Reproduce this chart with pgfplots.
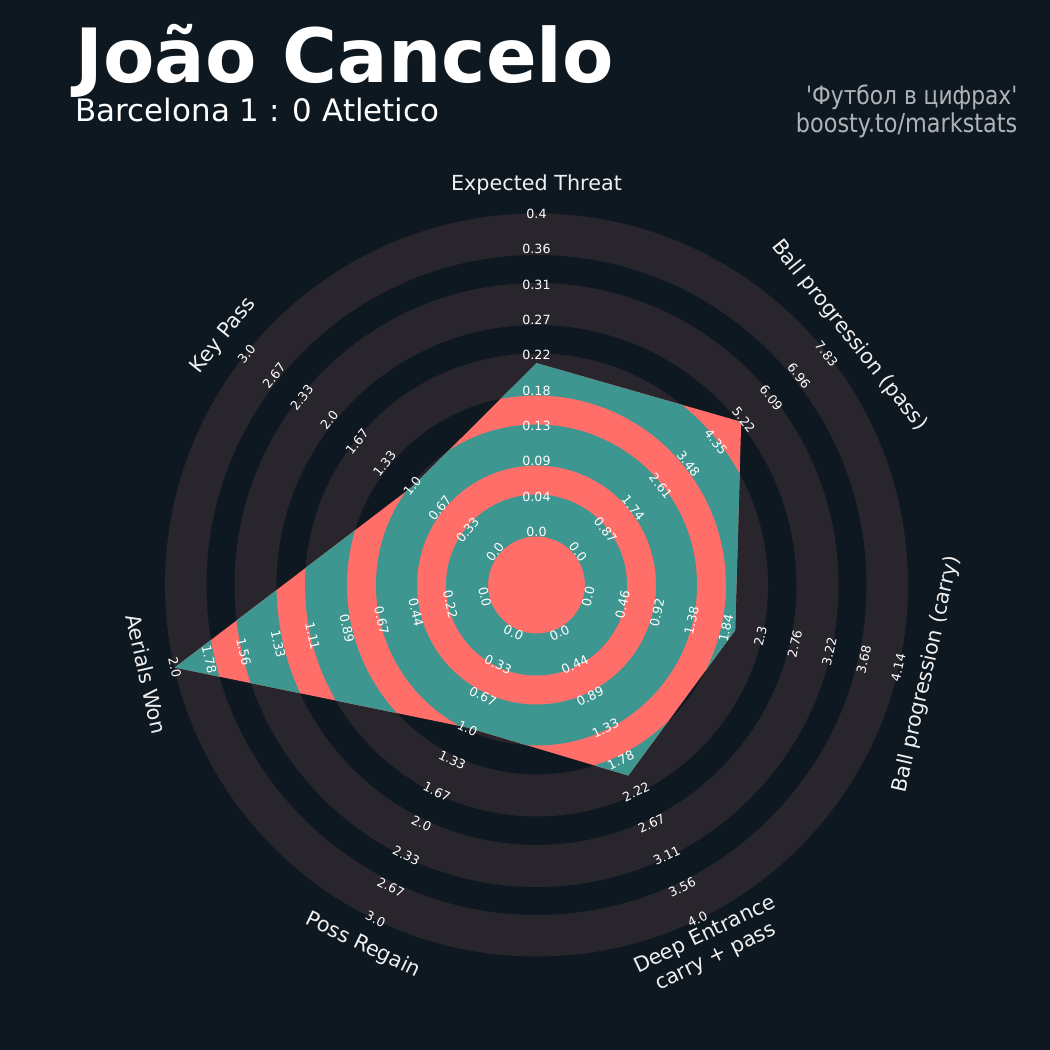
\documentclass[border=0pt]{standalone}
\usepackage{fontspec}
\setmainfont{DejaVu Sans}
\newfontfamily\condfont{DejaVu Sans}[FakeStretch=0.86]
\usepackage{pgfplots}
\usepackage{pgfplotstable}
\pgfplotsset{compat=1.18}

\definecolor{bgcol}{HTML}{0E1820}
\definecolor{ringcol}{HTML}{29252C}
\definecolor{salmon}{HTML}{FF6E69}
\definecolor{tealc}{HTML}{3E9690}
\definecolor{subgrey}{HTML}{B0B4B8}

% radar values: angle (deg), value, range max
\pgfplotstableread{
ang val max
90 0.213 0.4
38.571 5.15 7.83
-12.857 1.97 4.14
-64.286 2.0 4.0
-115.714 1.0 3.0
-167.143 2.0 2.0
141.429 1.0 3.0
}\radardata

\newcommand\annuli[1]{%
  \fill[#1,even odd rule] (axis cs:0,0) circle[radius=9.05mm] (axis cs:0,0) circle[radius=4.85mm];
  \fill[#1,even odd rule] (axis cs:0,0) circle[radius=16.05mm] (axis cs:0,0) circle[radius=11.95mm];
  \fill[#1,even odd rule] (axis cs:0,0) circle[radius=23.15mm] (axis cs:0,0) circle[radius=18.95mm];
  \fill[#1,even odd rule] (axis cs:0,0) circle[radius=30.2mm] (axis cs:0,0) circle[radius=26.0mm];
  \fill[#1,even odd rule] (axis cs:0,0) circle[radius=37.15mm] (axis cs:0,0) circle[radius=33.0mm];
}

\newcommand\rlabels[3]{%
  \foreach \t [count=\k from 0] in {#3}{%
    \pgfmathsetmacro\rr{53+35.33*\k}%
    \pgfmathsetmacro\xx{\rr*cos(#1)}%
    \pgfmathsetmacro\yy{\rr*sin(#1)}%
    \node[rotate=#2,text=white,font=\fontsize{3.6}{4}\selectfont,inner sep=0pt] at (axis cs:\xx,\yy) {\t};
  }%
}
\newcommand\plabel[4]{%
  \pgfmathsetmacro\xx{#4*cos(#1)}%
  \pgfmathsetmacro\yy{#4*sin(#1)}%
  \node[rotate=#2,text={white!94!black},font=\fontsize{5.9}{7}\selectfont,align=center,inner sep=0pt] at (axis cs:\xx,\yy) {#3};
}

\begin{document}
\begin{tikzpicture}
\begin{axis}[
  scale only axis, width=105mm, height=105mm,
  xmin=-536.5, xmax=513.5, ymin=-465, ymax=585,
  hide axis, clip=false]
\pgfplotsextra{%
  \fill[bgcol] (axis cs:-536.5,-465) rectangle (axis cs:513.5,585);
  \annuli{ringcol}
}
\addplot[fill=salmon, draw=none] table[
  x expr={(52+319*\thisrow{val}/\thisrow{max})*cos(\thisrow{ang})},
  y expr={(52+319*\thisrow{val}/\thisrow{max})*sin(\thisrow{ang})}] {\radardata};
\pgfplotsextra{%
  \gdef\polypath{}%
  \foreach \i in {0,...,6}{%
    \pgfplotstablegetelem{\i}{val}\of\radardata \let\myv\pgfplotsretval
    \pgfplotstablegetelem{\i}{max}\of\radardata \let\mym\pgfplotsretval
    \pgfplotstablegetelem{\i}{ang}\of\radardata \let\mya\pgfplotsretval
    \pgfmathsetmacro\rr{52+319*\myv/\mym}%
    \pgfmathsetmacro\xx{\rr*cos(\mya)}%
    \pgfmathsetmacro\yy{\rr*sin(\mya)}%
    \xdef\polypath{\polypath (axis cs:\xx,\yy) --}%
  }%
  \begin{scope}
    \edef\doclip{\noexpand\clip \polypath cycle;}\doclip
    \annuli{tealc}
  \end{scope}
}
\pgfplotsextra{%
  \rlabels{90}{0}{0.0,0.04,0.09,0.13,0.18,0.22,0.27,0.31,0.36,0.4}
  \rlabels{38.571}{-51.43}{0.0,0.87,1.74,2.61,3.48,4.35,5.22,6.09,6.96,7.83}
  \rlabels{-12.857}{77.14}{0.0,0.46,0.92,1.38,1.84,2.3,2.76,3.22,3.68,4.14}
  \rlabels{-64.286}{25.71}{0.0,0.44,0.89,1.33,1.78,2.22,2.67,3.11,3.56,4.0}
  \rlabels{-115.714}{-25.71}{0.0,0.33,0.67,1.0,1.33,1.67,2.0,2.33,2.67,3.0}
  \rlabels{-167.143}{-77.14}{0.0,0.22,0.44,0.67,0.89,1.11,1.33,1.56,1.78,2.0}
  \rlabels{141.429}{51.43}{0.0,0.33,0.67,1.0,1.33,1.67,2.0,2.33,2.67,3.0}
  \plabel{90}{0}{Expected Threat}{400}
  \plabel{38.571}{-51.43}{Ball progression (pass)}{400}
  \plabel{-12.857}{77.14}{Ball progression (carry)}{400}
  \plabel{-64.286}{25.71}{Deep Entrance\\carry + pass}{401}
  \plabel{-115.714}{-25.71}{Poss Regain}{400}
  \plabel{-167.143}{-77.14}{Aerials Won}{400}
  \plabel{141.429}{51.43}{Key Pass}{400}
  \node[anchor=base west,text=white,font=\fontsize{21.3}{26}\selectfont\bfseries,inner sep=0pt] at (axis cs:-461.5,502) {João Cancelo};
  \node[anchor=base west,text=white,font=\fontsize{8.8}{10}\selectfont,inner sep=0pt] at (axis cs:-461.5,463) {Barcelona 1 : 0 Atletico};
  \node[anchor=base east,text=subgrey,font=\condfont\fontsize{7.2}{9}\selectfont,inner sep=0pt] at (axis cs:481.5,480) {'Футбол в цифрах'};
  \node[anchor=base east,text=subgrey,font=\condfont\fontsize{7.4}{9}\selectfont,inner sep=0pt] at (axis cs:481.5,452) {boosty.to/markstats};
}
\end{axis}
\end{tikzpicture}
\end{document}
